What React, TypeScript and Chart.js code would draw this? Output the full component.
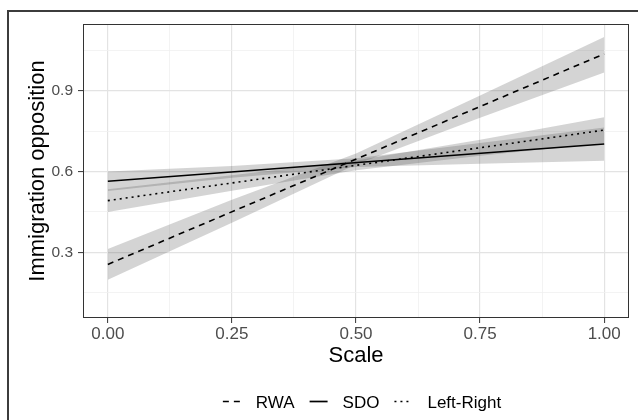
import React, { useEffect, useRef } from 'react';
import { Chart, registerables } from 'chart.js';
Chart.register(...registerables);

// ---- data ----
const lineX = [0, 1];
const rwaLine = [0.255, 1.037];
const sdoLine = [0.564, 0.702];
const lrLine = [0.492, 0.754];

const bandX = [0, 0.25, 0.5, 0.75, 1];
const rwaUpper = [0.312, 0.495, 0.667, 0.882, 1.1];
const rwaLower = [0.198, 0.41, 0.626, 0.8, 0.968];
const sdoUpper = [0.6, 0.621, 0.649, 0.706, 0.764];
const sdoLower = [0.528, 0.577, 0.617, 0.629, 0.64];
const lrUpper = [0.534, 0.586, 0.641, 0.718, 0.802];
const lrLower = [0.45, 0.529, 0.605, 0.659, 0.706];

const xMajorTicks = [0, 0.25, 0.5, 0.75, 1];
const xMinorTicks = [0.125, 0.375, 0.625, 0.875];
const yMajorTicks = [0.3, 0.6, 0.9];
const yMinorTicks = [0.15, 0.45, 0.75, 1.05];
const seriesNames = ['RWA', 'SDO', 'Left-Right'];
const seriesDashes = [[6, 5], [], [2, 4]];

const FONT = '"Liberation Sans", Arial, Helvetica, sans-serif';
const BAND = 'rgba(60,60,60,0.22)';

const isIn = (arr: number[], v: number) => arr.some((a) => Math.abs(a - v) < 1e-6);
const pts = (xs: number[], ys: number[]) => xs.map((x, i) => ({ x, y: ys[i] }));

const decorPlugin = {
  id: 'decor',
  afterDraw(chart: any) {
    const { ctx, chartArea } = chart;
    const { left, right, top, bottom } = chartArea;
    ctx.save();
    // panel border
    ctx.strokeStyle = '#333333';
    ctx.lineWidth = 1;
    ctx.setLineDash([]);
    ctx.strokeRect(left + 0.5, top + 0.5, right - left - 1, bottom - top - 1);

    // outer frame
    ctx.strokeStyle = '#3c3c3c';
    ctx.lineWidth = 2;
    ctx.strokeRect(8, 11, 700, 500);

    // axis titles
    ctx.fillStyle = '#000';
    ctx.font = `22px ${FONT}`;
    ctx.textAlign = 'center';
    ctx.textBaseline = 'alphabetic';
    ctx.fillText('Scale', (left + right) / 2, 362);
    ctx.save();
    ctx.translate(44, (top + bottom) / 2);
    ctx.rotate(-Math.PI / 2);
    ctx.fillText('Immigration opposition', 0, 0);
    ctx.restore();

    // legend
    ctx.font = `17px ${FONT}`;
    ctx.textAlign = 'left';
    const keyW = 18;
    const keyGap = 15;
    const itemGap = 15;
    const widths = seriesNames.map((n) => ctx.measureText(n).width);
    const total = widths.reduce((s, w) => s + keyW + keyGap + w, 0) + itemGap * (seriesNames.length - 1);
    let x = 362 - total / 2;
    const ly = 401.5;
    seriesNames.forEach((name, i) => {
      ctx.beginPath();
      ctx.strokeStyle = '#000';
      ctx.lineWidth = 1.7;
      ctx.setLineDash(seriesDashes[i]);
      ctx.moveTo(x, ly);
      ctx.lineTo(x + keyW, ly);
      ctx.stroke();
      ctx.setLineDash([]);
      x += keyW + keyGap;
      ctx.fillText(name, x, 408);
      x += widths[i] + itemGap;
    });
    ctx.restore();
  },
};

export default function App() {
  const ref = useRef<HTMLCanvasElement | null>(null);
  useEffect(() => {
    if (!ref.current) return;
    const lineDs = (ys: number[], dash: number[]) => ({
      data: pts(lineX, ys),
      borderColor: '#000000',
      borderWidth: 1.6,
      borderDash: dash,
      borderCapStyle: 'butt',
      pointRadius: 0,
      fill: false,
    });
    const upperDs = (ys: number[]) => ({
      data: pts(bandX, ys),
      borderColor: 'rgba(0,0,0,0)',
      borderWidth: 0,
      pointRadius: 0,
      fill: '+1',
      backgroundColor: BAND,
    });
    const lowerDs = (ys: number[]) => ({
      data: pts(bandX, ys),
      borderColor: 'rgba(0,0,0,0)',
      borderWidth: 0,
      pointRadius: 0,
      fill: false,
    });
    const chart = new Chart(ref.current, {
      type: 'line',
      data: {
        datasets: [
          lineDs(rwaLine, seriesDashes[0]),
          lineDs(sdoLine, seriesDashes[1]),
          lineDs(lrLine, seriesDashes[2]),
          upperDs(rwaUpper),
          lowerDs(rwaLower),
          upperDs(sdoUpper),
          lowerDs(sdoLower),
          upperDs(lrUpper),
          lowerDs(lrLower),
        ] as any,
      },
      options: {
        animation: false,
        responsive: false,
        devicePixelRatio: 1,
        layout: { padding: { top: 24, right: 9, left: 0, bottom: 0 } },
        plugins: { legend: { display: false }, tooltip: { enabled: false } },
        elements: { line: { tension: 0 } },
        scales: {
          x: {
            type: 'linear',
            min: -0.05,
            max: 1.05,
            afterBuildTicks: (s: any) => {
              s.ticks = [...xMajorTicks, ...xMinorTicks].sort((a, b) => a - b).map((v) => ({ value: v }));
            },
            afterFit: (s: any) => {
              s.height = 102;
            },
            ticks: {
              autoSkip: false,
              maxRotation: 0,
              padding: 1,
              color: '#4d4d4d',
              font: { family: FONT, size: 17 },
              callback: (v: any) => (isIn(xMajorTicks, Number(v)) ? Number(v).toFixed(2) : ''),
            },
            grid: {
              drawTicks: true,
              tickLength: 5,
              color: (c: any) => (isIn(xMajorTicks, c.tick.value) ? '#e3e3e3' : '#f0f0f0'),
              lineWidth: (c: any) => (isIn(xMajorTicks, c.tick.value) ? 1.2 : 0.8),
              tickColor: (c: any) => (isIn(xMajorTicks, c.tick.value) ? '#333333' : 'rgba(0,0,0,0)'),
              tickWidth: 1,
            },
            border: { display: false },
          },
          y: {
            type: 'linear',
            min: 0.056,
            max: 1.148,
            afterBuildTicks: (s: any) => {
              s.ticks = [...yMajorTicks, ...yMinorTicks].sort((a, b) => a - b).map((v) => ({ value: v }));
            },
            afterFit: (s: any) => {
              s.width = 83;
            },
            ticks: {
              autoSkip: false,
              padding: 5,
              color: '#4d4d4d',
              font: { family: FONT, size: 15.5 },
              callback: (v: any) => (isIn(yMajorTicks, Number(v)) ? Number(v).toFixed(1) : ''),
            },
            grid: {
              drawTicks: true,
              tickLength: 5,
              color: (c: any) => (isIn(yMajorTicks, c.tick.value) ? '#e3e3e3' : '#f0f0f0'),
              lineWidth: (c: any) => (isIn(yMajorTicks, c.tick.value) ? 1.2 : 0.8),
              tickColor: (c: any) => (isIn(yMajorTicks, c.tick.value) ? '#333333' : 'rgba(0,0,0,0)'),
              tickWidth: 1,
            },
            border: { display: false },
          },
        },
      } as any,
      plugins: [decorPlugin],
    });
    return () => chart.destroy();
  }, []);
  return (
    <div style={{ position: 'absolute', left: 0, top: 0, width: 638, height: 420, background: '#fff' }}>
      <canvas ref={ref} width={638} height={420} style={{ width: 638, height: 420, display: 'block' }} />
    </div>
  );
}
